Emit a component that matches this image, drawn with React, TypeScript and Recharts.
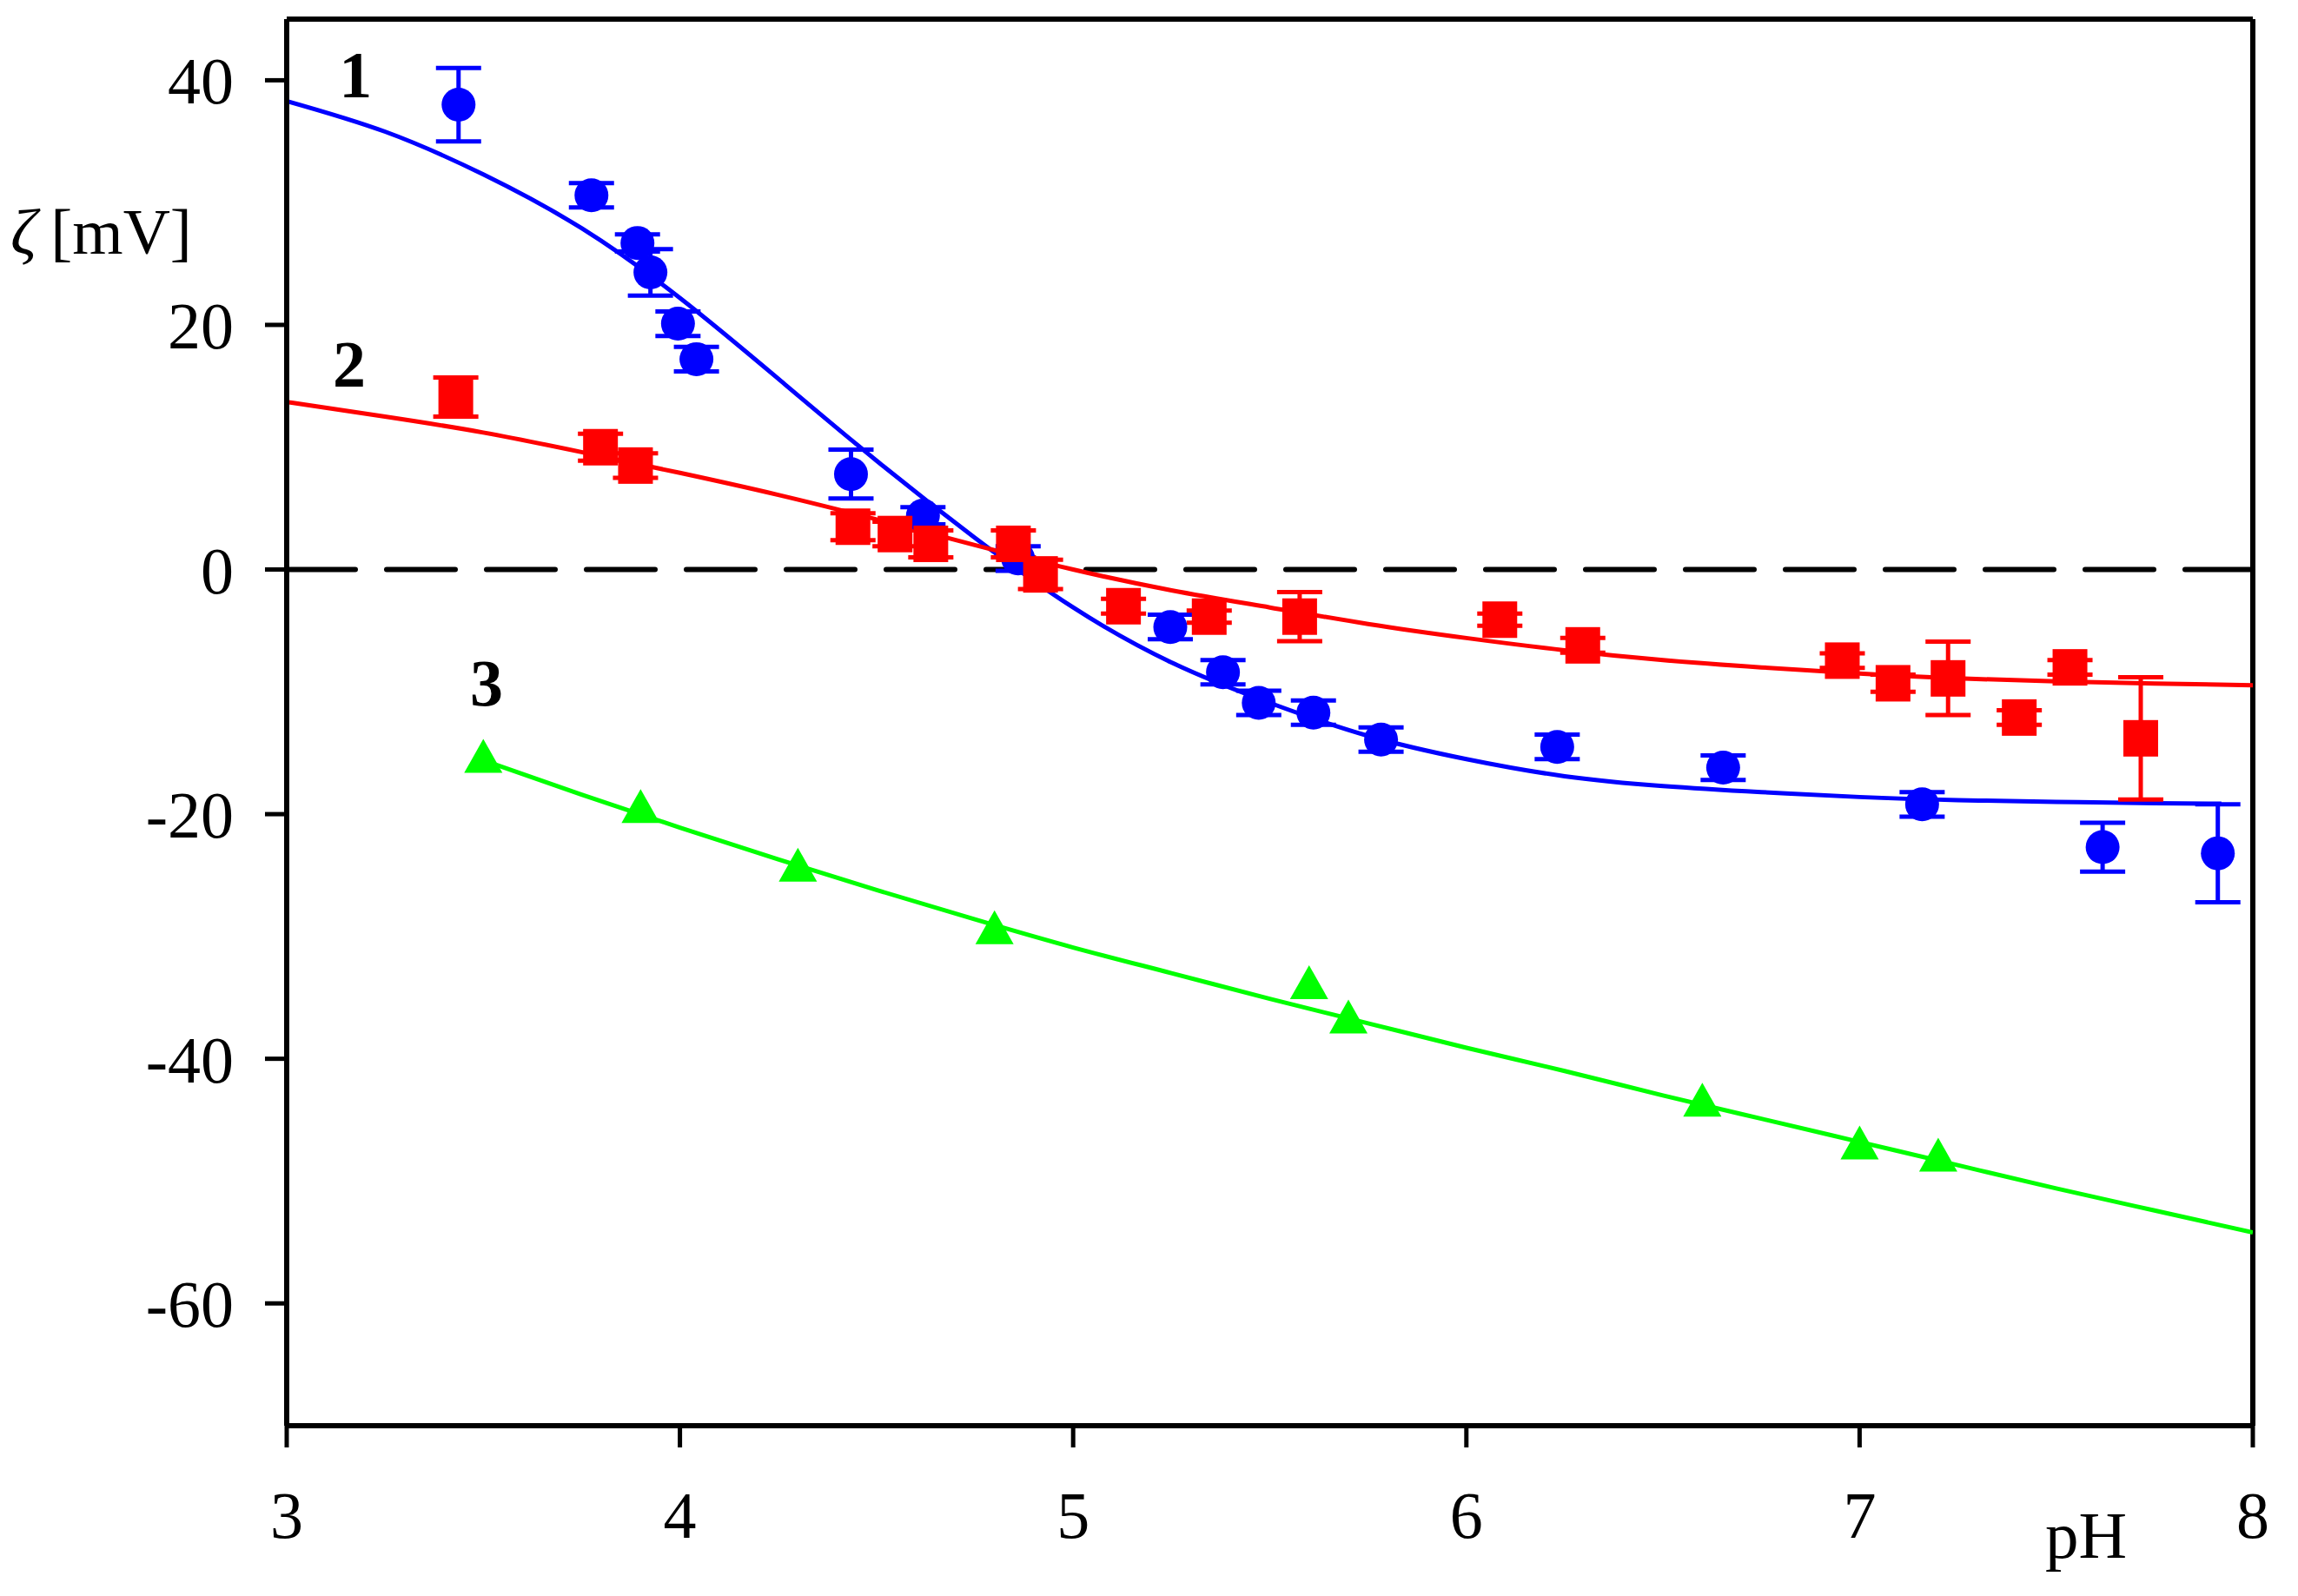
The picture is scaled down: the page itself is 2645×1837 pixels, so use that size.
import {
  ComposedChart, Line, Scatter, ErrorBar, XAxis, YAxis,
  ReferenceLine, ReferenceDot, Label,
} from 'recharts';

const xTicks = [3, 4, 5, 6, 7, 8];
const yTicks = [-60, -40, -20, 0, 20, 40];

// curve 1 (blue circles)
const bluePH = [3.437, 3.775, 3.892, 3.925, 3.995, 4.042, 4.435, 4.618, 4.86, 5.247, 5.381, 5.472, 5.611, 5.783, 6.231, 6.653, 7.159, 7.618, 7.911];
const blueZeta = [38.0, 30.6, 26.7, 24.3, 20.1, 17.2, 7.8, 4.4, 0.9, -4.7, -8.4, -10.9, -11.7, -13.9, -14.5, -16.2, -19.2, -22.7, -23.2];
const blueErr = [3.0, 1.0, 0.7, 1.9, 1.0, 1.0, 2.0, 0.7, 1.0, 1.0, 1.0, 1.0, 1.0, 1.0, 1.0, 1.0, 1.0, 2.0, 4.0];

// curve 2 (red squares)
const redPH = [3.43, 3.798, 3.887, 4.44, 4.547, 4.638, 4.848, 4.917, 5.128, 5.346, 5.576, 6.085, 6.296, 6.956, 7.085, 7.225, 7.406, 7.535, 7.715];
const redZeta = [14.1, 10.0, 8.5, 3.5, 2.9, 2.1, 2.1, -0.4, -3.0, -3.85, -3.85, -4.1, -6.2, -7.45, -9.3, -8.9, -12.1, -8.0, -13.8];
const redErr = [1.6, 1.1, 1.0, 1.1, 1.0, 1.1, 1.1, 1.2, 0.6, 0.5, 2.0, 0.5, 0.6, 0.6, 0.7, 3.0, 0.6, 0.6, 5.0];

// curve 3 (green triangles)
const greenPH = [3.5, 3.9, 4.3, 4.8, 5.6, 5.7, 6.6, 7.0, 7.2];
const greenZeta = [-15.7, -19.8, -24.6, -29.7, -34.2, -37.0, -43.8, -47.3, -48.3];

// fitted curves
const blueFitPH = [3.0, 3.25, 3.5, 3.75, 4.0, 4.25, 4.5, 4.75, 5.0, 5.25, 5.5, 5.75, 6.0, 6.25, 6.5, 6.75, 7.0, 7.25, 7.5, 7.75, 7.92];
const blueFitZeta = [38.3, 35.8, 32.3, 27.9, 22.2, 15.6, 8.9, 2.6, -3.1, -7.6, -10.9, -13.6, -15.5, -16.9, -17.7, -18.2, -18.6, -18.85, -19.0, -19.1, -19.15];

const redFitPH = [3.0, 3.25, 3.5, 3.75, 4.0, 4.25, 4.5, 4.75, 5.0, 5.25, 5.5, 5.75, 6.0, 6.25, 6.5, 6.75, 7.0, 7.25, 7.5, 7.75, 8.0];
const redFitZeta = [13.7, 12.5, 11.2, 9.6, 7.9, 6.1, 4.1, 2.0, 0.0, -1.7, -3.1, -4.45, -5.6, -6.6, -7.4, -8.0, -8.5, -8.9, -9.15, -9.32, -9.46];

const greenFitPH = [3.5, 3.75, 4.0, 4.25, 4.5, 4.75, 5.0, 5.25, 5.5, 5.75, 6.0, 6.25, 6.5, 6.75, 7.0, 7.25, 7.5, 7.75, 8.0];
const greenFitZeta = [-15.6, -18.4, -21.1, -23.7, -26.2, -28.6, -30.9, -33.0, -35.1, -37.1, -39.1, -41.0, -43.0, -44.9, -46.8, -48.7, -50.6, -52.4, -54.2];

// curve numbers: [text, pH, zeta]
const curveLabels: [string, number, number][] = [
  ['1', 3.175, 40.5],
  ['2', 3.159, 16.9],
  ['3', 3.508, -9.2],
];

const pts = (xs: number[], ys: number[], es?: number[]) =>
  xs.map((x, i) => ({ x, y: ys[i], err: es ? es[i] : 0 }));

const blueData = pts(bluePH, blueZeta, blueErr);
const redData = pts(redPH, redZeta, redErr);
const greenData = pts(greenPH, greenZeta);
const blueFit = pts(blueFitPH, blueFitZeta);
const redFit = pts(redFitPH, redFitZeta);
const greenFit = pts(greenFitPH, greenFitZeta);

const BLUE = '#0000ff';
const RED = '#ff0000';
const GREEN = '#00ff00';
const FONT = '"Liberation Serif", "Times New Roman", serif';

const tickStyle = { fill: '#000', fontSize: 76, fontFamily: FONT };
const axisLine = { stroke: '#000', strokeWidth: 6 };
const tickLine = { stroke: '#000', strokeWidth: 5 };

const Circle = (p: any) => <circle cx={p.cx} cy={p.cy} r={19.5} fill={BLUE} />;
const Square = (p: any) => <rect x={p.cx - 20} y={p.cy - 21} width={40} height={42} fill={RED} />;
const Triangle = (p: any) => (
  <polygon
    points={`${p.cx},${p.cy - 26} ${p.cx - 22},${p.cy + 13} ${p.cx + 22},${p.cy + 13}`}
    fill={GREEN}
  />
);

export default function App() {
  return (
    <div style={{ position: 'absolute', left: 0, top: 0, width: 2645, height: 1837, background: '#fff' }}>
      <ComposedChart
        width={2645}
        height={1837}
        margin={{ top: 22, right: 52, bottom: 46, left: 0 }}
      >
        <XAxis
          dataKey="x"
          type="number"
          domain={[3, 8]}
          ticks={xTicks}
          interval={0}
          allowDataOverflow
          height={150}
          tickSize={25}
          tickMargin={50}
          axisLine={axisLine}
          tickLine={tickLine}
          tick={tickStyle}
        >
          <Label
            content={() => (
              <text x={2401} y={1793} textAnchor="middle" fontSize={77} fontFamily={FONT} fill="#000">
                pH
              </text>
            )}
          />
        </XAxis>
        <YAxis
          type="number"
          domain={[-70, 45]}
          ticks={yTicks}
          interval={0}
          allowDataOverflow
          width={330}
          tickSize={25}
          tickMargin={36}
          axisLine={axisLine}
          tickLine={tickLine}
          tick={tickStyle}
        >
          <Label
            content={() => (
              <text x={12} y={292} fontSize={75} fontFamily={FONT} fill="#000">
                <tspan fontStyle="italic">ζ</tspan>
                <tspan dx={16}>[mV]</tspan>
              </text>
            )}
          />
        </YAxis>

        <ReferenceLine y={45} stroke="#000" strokeWidth={6} />
        <ReferenceLine x={8} stroke="#000" strokeWidth={6} />
        <ReferenceLine y={0} stroke="#000" strokeWidth={6} strokeDasharray="79 36" strokeLinecap="round" />

        <Line data={blueFit} dataKey="y" type="natural" stroke={BLUE} strokeWidth={5} dot={false} activeDot={false} isAnimationActive={false} />
        <Line data={redFit} dataKey="y" type="natural" stroke={RED} strokeWidth={5} dot={false} activeDot={false} isAnimationActive={false} />
        <Line data={greenFit} dataKey="y" type="natural" stroke={GREEN} strokeWidth={5} dot={false} activeDot={false} isAnimationActive={false} />

        <Scatter data={blueData} dataKey="y" shape={Circle} isAnimationActive={false}>
          <ErrorBar dataKey="err" direction="y" width={26} stroke={BLUE} strokeWidth={5} />
        </Scatter>
        <Scatter data={redData} dataKey="y" shape={Square} isAnimationActive={false}>
          <ErrorBar dataKey="err" direction="y" width={26} stroke={RED} strokeWidth={5} />
        </Scatter>
        <Scatter data={greenData} dataKey="y" shape={Triangle} isAnimationActive={false} />

        {curveLabels.map(([t, x, y]) => (
          <ReferenceDot
            key={t}
            x={x}
            y={y}
            r={0}
            stroke="none"
            label={{ value: t, position: 'center', fontSize: 76, fontWeight: 'bold', fontFamily: FONT, fill: '#000' }}
          />
        ))}
      </ComposedChart>
    </div>
  );
}
